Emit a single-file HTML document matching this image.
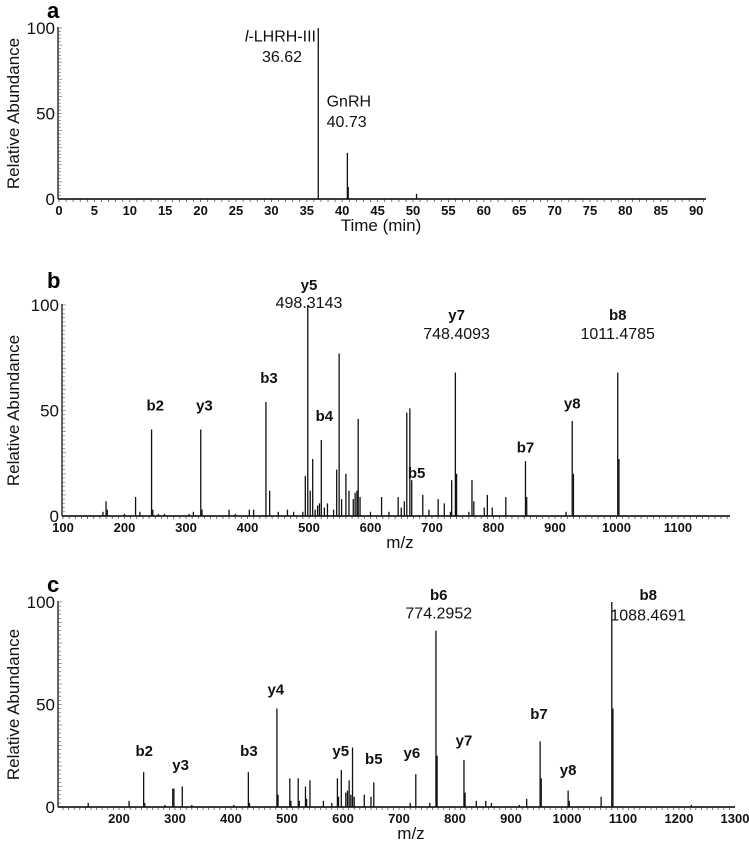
<!DOCTYPE html>
<html><head><meta charset="utf-8"><style>
html,body{margin:0;padding:0;background:#fff;}
svg{display:block;font-family:"Liberation Sans",Arial,sans-serif;}
.tk{font-size:13px;font-weight:bold;fill:#111;}
.yt{font-size:17px;fill:#111;}
.ttl{font-size:17px;fill:#111;}
.ion{font-size:15px;font-weight:bold;fill:#111;}
.val{font-size:16px;fill:#111;}
.pl{font-size:22px;font-weight:bold;fill:#000;}
</style></head><body>
<svg id="fig" width="749" height="843" viewBox="0 0 749 843"></svg>
<script>
// ---- Panel a data ----
const aTimes = [36.62, 40.73, 40.85, 50.5];
const aInts = [100, 27, 7, 3];
const aTicks = [0,5,10,15,20,25,30,35,40,45,50,55,60,65,70,75,80,85,90];
// ---- Panel b data ----
const bMz = [165,170,172,200,218,225,244,246,255,265,305,312,324,326,370,380,403,410,430,436,450,465,475,490,494,498,502,506,510,514,517,520,525,530,540,545,549,553,560,565,572,575,578,580,583,600,618,630,645,650,655,659,664,667,685,695,710,720,730,732,738,740,760,765,768,785,790,798,820,852,854,918,928,930,1002,1004];
const bInt = [2,7,3,1,9,2,41,3,1,1,1,2,41,3,3,1,3,3,54,12,2,3,2,2,19,100,12,27,3,5,6,36,4,6,3,22,77,8,20,12,8,11,12,46,9,2,9,2,9,4,7,49,51,17,10,3,8,6,2,17,68,20,2,17,7,4,10,4,9,26,9,2,45,20,68,27];
const bTicks = [100,200,300,400,500,600,700,800,900,1000,1100];
const bLabels = ["b2","y3","b3","y5","b4","b5","y7","b7","y8","b8"];
const bLabelMz = [250,330,435,500,525,675,740,852,928,1002];
const bLabelY = [50,50,63,107,45,18,93,30,51,93];
const bValTexts = ["498.3143","748.4093","1011.4785"];
const bValMz = [500,740,1002];
const bValY = [98.5,84,84];
// ---- Panel c data ----
const cMz = [145,218,244,246,282,296,298,313,330,405,431,433,482,484,505,507,520,522,533,535,541,565,580,590,592,597,605,608,611,614,617,620,638,650,655,720,730,755,766,768,816,818,838,855,865,915,928,952,954,1002,1004,1061,1080,1082,1222];
const cInt = [2,3,17,2,1,9,9,10,1,1,17,2,48,6,14,3,14,3,10,4,13,3,2,14,5,18,7,8,13,6,29,5,6,5,12,2,16,2,86,25,23,7,3,3,2,1,4,32,14,8,3,5,100,48,1];
const cTicks = [200,300,400,500,600,700,800,900,1000,1100,1200,1300];
const cLabels = ["b2","y3","b3","y4","y5","b5","y6","b6","y7","b7","y8","b8"];
const cLabelMz = [245,310,432,480,596,655,723,771,816,950,1002,1145];
const cLabelY = [25,18,25,55,25,21,24,101,30,43,15.5,101];
const cValTexts = ["774.2952","1088.4691"];
const cValMz = [771,1145];
const cValY = [92,91];

const NS="http://www.w3.org/2000/svg";
const svg=document.getElementById('fig');
function el(tag,attrs,parent){const e=document.createElementNS(NS,tag);for(const k in attrs)e.setAttribute(k,attrs[k]);(parent||svg).appendChild(e);return e;}

function panel(cfg){
  const g=el('g',{});
  
  
  const X=v=>cfg.x0+(v-cfg.v0)*cfg.sx;
  const Y=v=>cfg.y0-(v/100)*(cfg.y0-cfg.y100);
  const pl=el('text',{x:cfg.lx,y:cfg.ly,class:'pl'},g);pl.textContent=cfg.letter;
  
  
  for(let v=0;v<=100;v+=2){el('line',{x1:cfg.ax,x2:cfg.ax+(v%10==0?4:3),y1:Y(v),y2:Y(v),stroke:'#888','stroke-width':0.8},g);}
  for(let v=cfg.minStart;X(v)<=cfg.axEnd;v+=cfg.minStep){el('line',{x1:X(v),x2:X(v),y1:cfg.y0,y2:cfg.y0+3,stroke:'#555','stroke-width':0.8},g);}
  const ya=el('line',{x1:cfg.ax,x2:cfg.ax,y1:Y(100)-1,y2:cfg.y0,stroke:'#333','stroke-width':1.5},g);
  
  
  const xa=el('line',{x1:cfg.ax,x2:cfg.axEnd,y1:cfg.y0,y2:cfg.y0,stroke:'#222','stroke-width':1.8},g);
  
  
  [0,50,100].forEach(v=>{const t=el('text',{x:cfg.ax-3,y:Y(v)+6,'text-anchor':'end',class:'yt'},g);t.textContent=v;
    
    });
  cfg.ticks.forEach(v=>{const t=el('text',{x:X(v),y:cfg.y0+16,'text-anchor':'middle',class:'tk'},g);t.textContent=v;
    
    });
  const xt=el('text',{x:cfg.xtx,y:cfg.y0+32,'text-anchor':'middle',class:'ttl'},g);xt.textContent=cfg.xtitle;
  
  
  const ymid=(cfg.y0+Y(100))/2;
  const yt=el('text',{x:0,y:0,'text-anchor':'middle',class:'ttl',transform:`translate(19,${ymid}) rotate(-90)`},g);yt.textContent='Relative Abundance';
  
  
  for(let i=0;i<cfg.mz.length;i++){
    const p=el('line',{x1:X(cfg.mz[i]),x2:X(cfg.mz[i]),y1:cfg.y0,y2:Y(cfg.ints[i]),stroke:'#111','stroke-width':1.3},g);
    
    
  }
  (cfg.labels||[]).forEach((s,i)=>{const t=el('text',{x:X(cfg.labelMz[i]),y:Y(cfg.labelY[i]),'text-anchor':'middle',class:'ion'},g);t.textContent=s;
    
    });
  (cfg.vals||[]).forEach((s,i)=>{const t=el('text',{x:X(cfg.valMz[i]),y:Y(cfg.valY[i]),'text-anchor':'middle',class:'val'},g);t.textContent=s;
    
    });
  return {g,X,Y};
}

const pa=panel({name:'panel-a-chromatogram',letter:'a',lx:47,ly:18,ax:58,axEnd:706,x0:59,v0:0,sx:7.08,y0:199,y100:28,
  minStart:0,minStep:1,ticks:aTicks,xtitle:'Time (min)',xtx:381,mz:aTimes,ints:aInts});
(function(){
  const t1=el('text',{x:pa.X(36.3),y:pa.Y(92),'text-anchor':'end',class:'val'},pa.g);
  
  
  const ti=el('tspan',{'font-style':'italic'},t1);ti.textContent='l';
  const tr=el('tspan',{},t1);tr.textContent='-LHRH-III';
  const t2=el('text',{x:pa.X(31.5),y:pa.Y(80),'text-anchor':'middle',class:'val'},pa.g);t2.textContent='36.62';
  
  
  const t3=el('text',{x:pa.X(37.8),y:pa.Y(54),'text-anchor':'start',class:'val'},pa.g);t3.textContent='GnRH';
  
  
  const t4=el('text',{x:pa.X(37.8),y:pa.Y(42),'text-anchor':'start',class:'val'},pa.g);t4.textContent='40.73';
  
  
})();

panel({name:'panel-b-spectrum',letter:'b',lx:47,ly:288,ax:62,axEnd:730,x0:63,v0:100,sx:0.615,y0:516,y100:305,
  minStart:100,minStep:10,ticks:bTicks,xtitle:'m/z',xtx:400,mz:bMz,ints:bInt,
  labels:bLabels,labelMz:bLabelMz,labelY:bLabelY,vals:bValTexts,valMz:bValMz,valY:bValY});

panel({name:'panel-c-spectrum',letter:'c',lx:47,ly:592,ax:58,axEnd:735,x0:119,v0:200,sx:0.56,y0:807,y100:602,
  minStart:100,minStep:10,ticks:cTicks,xtitle:'m/z',xtx:411,mz:cMz,ints:cInt,
  labels:cLabels,labelMz:cLabelMz,labelY:cLabelY,vals:cValTexts,valMz:cValMz,valY:cValY});
</script>
</body></html>
